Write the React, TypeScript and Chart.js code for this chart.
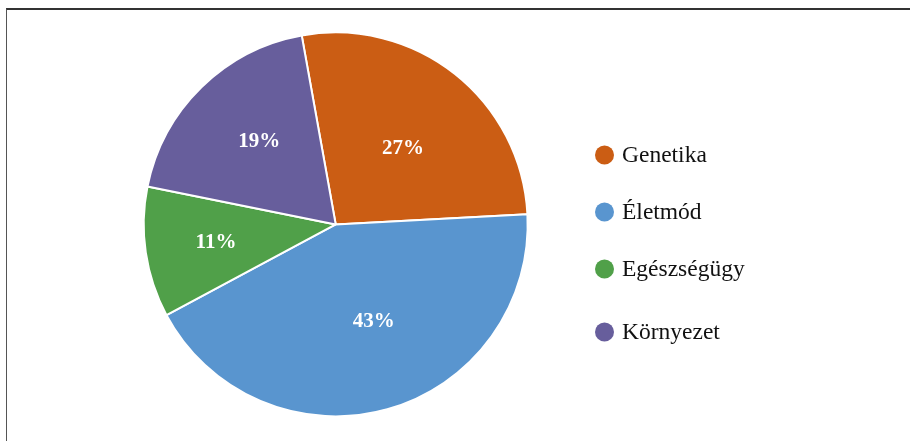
import React, { useEffect, useRef } from "react";
import { Chart, registerables } from "chart.js";

Chart.register(...registerables);

const CATEGORIES = ["Genetika", "Életmód", "Egészségügy", "Környezet"];
const VALUES = [27, 43, 11, 19];
const COLORS = ["#CB5D14", "#5995CF", "#50A049", "#675E9C"];
// label placement styling (radial fraction and angular nudge in degrees)
const LABEL_RADIUS = [0.53, 0.54, 0.63, 0.59];
const LABEL_ANGLE_SHIFT = [3, -6, 0, 2];

const SERIF = '"Liberation Serif", "Times New Roman", serif';

const labelPlugin = {
  id: "sliceLabels",
  afterDatasetsDraw(chart: any) {
    const ctx = chart.ctx;
    const meta = chart.getDatasetMeta(0);
    const total = VALUES.reduce((a, b) => a + b, 0);
    ctx.save();
    ctx.font = `bold 21px ${SERIF}`;
    ctx.fillStyle = "#ffffff";
    ctx.textAlign = "center";
    ctx.textBaseline = "middle";
    meta.data.forEach((arc: any, i: number) => {
      const p = arc.getProps(["x", "y", "startAngle", "endAngle", "outerRadius"], true);
      const mid = (p.startAngle + p.endAngle) / 2 + (LABEL_ANGLE_SHIFT[i] * Math.PI) / 180;
      const r = p.outerRadius * LABEL_RADIUS[i];
      const pct = Math.round((VALUES[i] / total) * 100) + "%";
      ctx.fillText(pct, p.x + Math.cos(mid) * r, p.y + Math.sin(mid) * r + 1);
    });
    ctx.restore();
  },
};

const legendPlugin = {
  id: "customLegend",
  afterDraw(chart: any) {
    const ctx = chart.ctx;
    const x0 = 604.5;
    const ys = [155, 212, 269, 332];
    ctx.save();
    ctx.font = `23.5px ${SERIF}`;
    ctx.textAlign = "left";
    ctx.textBaseline = "middle";
    CATEGORIES.forEach((label, i) => {
      ctx.beginPath();
      ctx.arc(x0, ys[i], 9.5, 0, Math.PI * 2);
      ctx.fillStyle = COLORS[i];
      ctx.fill();
      ctx.fillStyle = "#111111";
      ctx.fillText(label, x0 + 17.5, ys[i] + 1);
    });
    ctx.restore();
  },
};

export default function App() {
  const ref = useRef<HTMLCanvasElement | null>(null);
  useEffect(() => {
    if (!ref.current) return;
    const chart = new Chart(ref.current, {
      type: "pie",
      data: {
        labels: CATEGORIES,
        datasets: [
          {
            data: VALUES,
            backgroundColor: COLORS,
            borderColor: "#ffffff",
            borderWidth: 2,
          },
        ],
      },
      options: {
        animation: false,
        responsive: false,
        rotation: -10.2,
        layout: { padding: { left: 142.7, right: 381.3, top: 31.4, bottom: 23.6 } },
        plugins: {
          legend: { display: false },
          tooltip: { enabled: false },
        },
      },
      plugins: [labelPlugin, legendPlugin],
    });
    return () => chart.destroy();
  }, []);
  return (
    <div style={{ position: "fixed", left: 0, top: 0, width: 910, height: 441, background: "#fff", overflow: "hidden" }}>
      <canvas ref={ref} width={910} height={441} style={{ position: "absolute", left: 0, top: 0, width: 910, height: 441 }} />
      <div
        style={{
          position: "absolute",
          left: 6,
          top: 8,
          width: 1000,
          height: 1000,
          borderTop: "2px solid #333",
          borderLeft: "1.5px solid #555",
          pointerEvents: "none",
        }}
      />
    </div>
  );
}
